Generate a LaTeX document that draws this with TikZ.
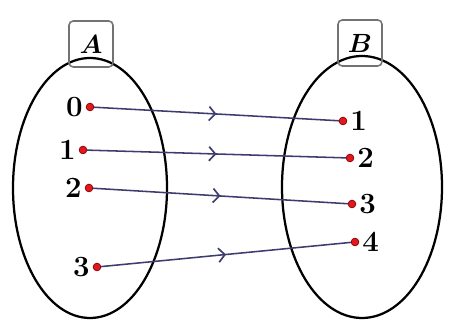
\documentclass[tikz,border=0pt]{standalone}
\usepackage{amsmath,amssymb}
\usepackage{tikz}
\usetikzlibrary{arrows.meta,shapes.geometric,positioning,calc,decorations.markings}

\definecolor{mapline}{RGB}{62,60,110}
\definecolor{dotred}{RGB}{225,25,30}
\newcommand{\setlbl}[1]{\scalebox{1.3}{$\boldsymbol{#1}$}}
\newcommand{\numlbl}[1]{\scalebox{1.45}{$\mathbf{#1}$}}

\begin{document}
\begin{tikzpicture}[
    setname/.style={draw=black!55, line width=1.1pt, rounded corners=3pt, minimum width=1.1cm, minimum height=1.15cm, inner sep=1pt, font=\Large},
    elem/.style={circle, draw=red!50!black, fill=dotred, inner sep=0pt, minimum size=5.5pt, line width=0.5pt},
    num/.style={font=\Large, inner sep=2pt},
    maparr/.style={mapline, line width=1.1pt, postaction={decorate},
        decoration={markings, mark=at position 0.5 with {\arrow{Straight Barb[length=4.5pt,width=10pt,line width=1.2pt]}}}}
]
\useasboundingbox (0,0) rectangle (11.4,8.15);

% the two sets
\draw[line width=1.6pt] (2.25,3.45) ellipse [x radius=1.925, y radius=3.25];
\draw[line width=1.6pt] (9.05,3.475) ellipse [x radius=2.0, y radius=3.275];
\node[setname] (A) at (2.275,7.05) {\setlbl{A}};
\node[setname] (B) at (9.0,7.075) {\setlbl{B}};

% domain
\node[elem, label={[num]left:\numlbl{0}}] (a0) at (2.25,5.475) {};
\node[elem, label={[num]left:\numlbl{1}}] (a1) at (2.075,4.4) {};
\node[elem, label={[num]left:\numlbl{2}}] (a2) at (2.225,3.45) {};
\node[elem, label={[num]left:\numlbl{3}}] (a3) at (2.425,1.475) {};

% codomain
\node[elem, label={[num]right:\numlbl{1}}] (b1) at (8.575,5.125) {};
\node[elem, label={[num]right:\numlbl{2}}] (b2) at (8.75,4.2) {};
\node[elem, label={[num]right:\numlbl{3}}] (b3) at (8.8,3.05) {};
\node[elem, label={[num]right:\numlbl{4}}] (b4) at (8.875,2.1) {};

\draw[maparr] (a0) -- (b1);
\draw[maparr] (a1) -- (b2);
\draw[maparr] (a2) -- (b3);
\draw[maparr] (a3) -- (b4);
\end{tikzpicture}
\end{document}
